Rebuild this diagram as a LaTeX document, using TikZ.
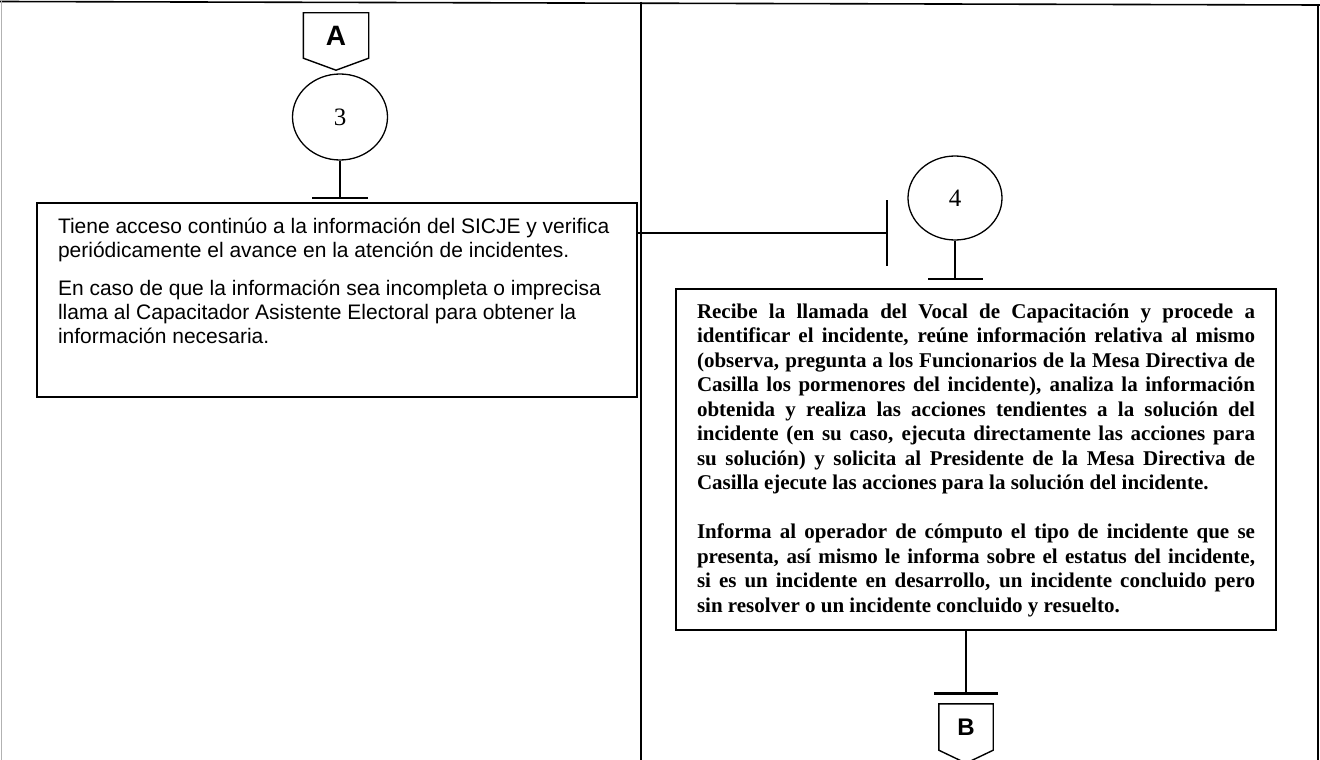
\documentclass[tikz,border=0pt]{standalone}
\usepackage{fontspec}
\setmainfont{Liberation Serif}
\newfontfamily\arialfont{Liberation Sans}
\usetikzlibrary{arrows.meta,shapes.geometric,calc}

\tikzset{
  proc/.style={draw, line width=1.6pt, inner xsep=21pt, inner ysep=0pt},
  conn/.style={draw, ellipse, line width=1.3pt, inner sep=0pt,
    font=\fontsize{25}{25}\selectfont},
  link/.style={line width=1.3pt},
  tee/.style={link, -{Bar[width=#1, line width=2.4pt]}},
  offpage/.style={inner sep=0pt, font=\arialfont\bfseries\fontsize{#1}{#1}\selectfont},
  offline/.style={line width=1.4pt},
}

\begin{document}
\begin{tikzpicture}[x=1pt,y=-1pt]
\useasboundingbox (0,0) rectangle (1320,760);

% marco de la hoja
\draw[line width=1.6pt] (0,1.5) -- (1320,5);
\draw[gray!60, line width=1pt] (1,0) -- (1,760);
\draw[line width=1.6pt] (641,2) -- (641,760);
\draw[line width=1.6pt] (1318,4) -- (1318,760);

% columna izquierda
\node[offpage=28, minimum width=65pt, minimum height=45pt] (offA) at (336,35.5) {A};
\draw[offline] (offA.north west) -- (offA.north east) -- (offA.south east)
  -- ($(offA.south)+(0,12)$) -- (offA.south west) -- cycle;

\node[conn, minimum width=95pt, minimum height=86pt] (c3) at (340,117) {3};

\node[proc] (leftbox) at (337,300) {\parbox[c][194pt][t]{558pt}{%
  \arialfont\fontsize{21}{24}\selectfont\raggedright
  \rule{0pt}{30.5pt}Tiene acceso continúo a la información del SICJE y verifica\\
  periódicamente el avance en la atención de incidentes.\par\vspace{14pt}
  En caso de que la información sea incompleta o imprecisa\\
  llama al Capacitador Asistente Electoral para obtener la\\
  información necesaria.}};

\draw[tee=56pt, shorten >=3pt] (c3) -- (c3 |- leftbox.north);

% columna derecha
\coordinate (in4) at (888,233);
\draw[tee=66pt] (leftbox.east |- in4) -- (in4);

\node[conn, minimum width=94pt, minimum height=84pt] (c4) at (955,198) {4};

\node[proc] (rightbox) at (976,459.5) {\parbox[c][341pt][t]{558pt}{%
  \bfseries\fontsize{21}{24.5}\selectfont\noindent
  \rule{0pt}{29pt}Recibe la llamada del Vocal de Capacitación y procede a\linebreak
  identificar el incidente, reúne información relativa al mismo\linebreak
  (observa, pregunta a los Funcionarios de la Mesa Directiva de\linebreak
  Casilla los pormenores del incidente), analiza la información\linebreak
  obtenida y realiza las acciones tendientes a la solución del\linebreak
  incidente (en su caso, ejecuta directamente las acciones para\linebreak
  su solución) y solicita al Presidente de la Mesa Directiva de\linebreak
  Casilla ejecute las acciones para la solución del incidente.\par\vspace{24.5pt}
  \noindent Informa al operador de cómputo el tipo de incidente que se\linebreak
  presenta, así mismo le informa sobre el estatus del incidente,\linebreak
  si es un incidente en desarrollo, un incidente concluido pero\linebreak
  sin resolver o un incidente concluido y resuelto.}};

\draw[tee=55pt, shorten >=8pt] (c4) -- (c4 |- rightbox.north);

\node[offpage=24, minimum width=54pt, minimum height=46pt] (offB) at (966,727) {B};
\draw[offline] (offB.north west) -- (offB.north east) -- (offB.south east)
  -- ($(offB.south)+(0,13)$) -- (offB.south west) -- cycle;

\draw[tee=64pt, shorten >=9pt] (offB |- rightbox.south) -- (offB.north);

\end{tikzpicture}
\end{document}
